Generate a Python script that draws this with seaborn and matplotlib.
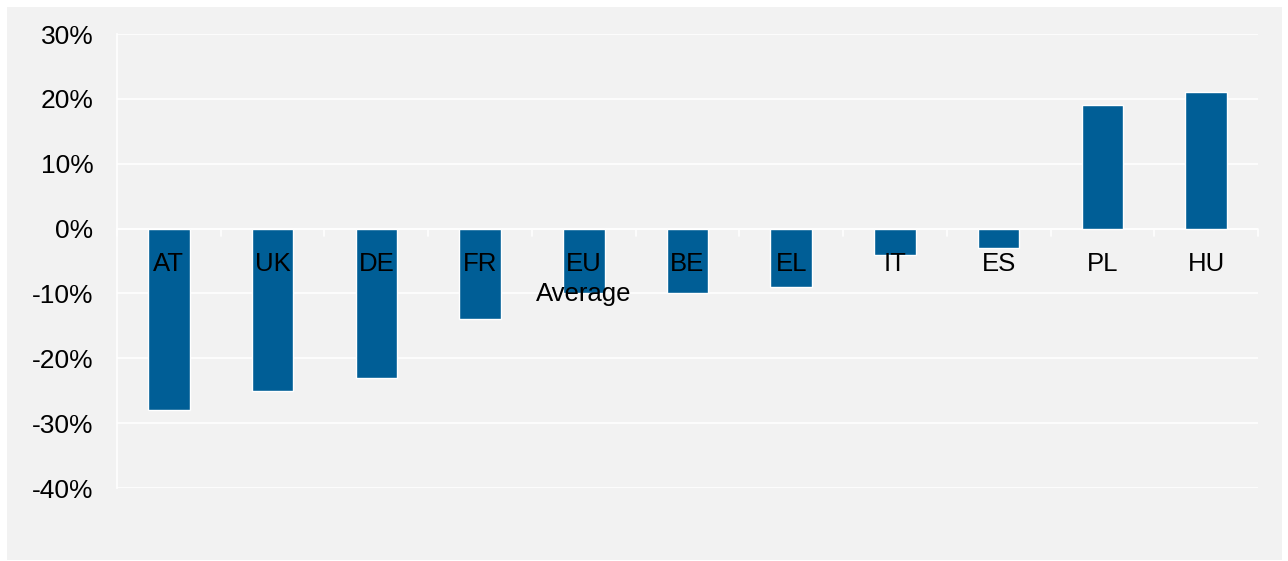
import pandas as pd
import seaborn as sns
import matplotlib.pyplot as plt
from matplotlib.patches import Rectangle
from matplotlib.ticker import FuncFormatter, FixedLocator

countries = ['AT', 'UK', 'DE', 'FR', 'EU\nAverage', 'BE', 'EL', 'IT', 'ES', 'PL', 'HU']
change = [-28, -25, -23, -14, -10, -10, -9, -4, -3, 19, 21]

df = pd.DataFrame({'Country': countries, 'Change': change})

sns.set_theme(style="white")
plt.rcParams['font.family'] = ['Liberation Sans', 'DejaVu Sans']

fig = plt.figure(figsize=(12.88, 5.61), dpi=100, facecolor='white')
# grey panel behind everything
fig.patches.append(Rectangle((7 / 1288, 1 / 561), 1275 / 1288, 553 / 561,
                             transform=fig.transFigure, facecolor='#f2f2f2',
                             edgecolor='none', zorder=-10))
ax = fig.add_axes([117 / 1288, 1 - 488 / 561, 1141 / 1288, 454 / 561])
ax.set_facecolor('#f2f2f2')

sns.barplot(data=df, x='Country', y='Change', color='#005e96', width=0.4,
            saturation=1, ax=ax, zorder=3)

ax.set_ylim(-40, 30)
ax.set_xlim(-0.5, len(countries) - 0.5)
ax.yaxis.set_major_locator(FixedLocator(range(-40, 31, 10)))
ax.yaxis.set_major_formatter(FuncFormatter(lambda v, p: f'{int(v)}%'))
ax.grid(axis='y', color='white', linewidth=1.2, zorder=0)

for s in ['top', 'right', 'bottom']:
    ax.spines[s].set_visible(False)
ax.spines['left'].set_color('white')
ax.spines['left'].set_linewidth(1.2)
ax.axhline(0, color='white', linewidth=1.2, zorder=1)

ax.tick_params(axis='y', colors='white', length=8, width=1.2, labelsize=19,
               labelcolor='black', pad=9)
ax.set_xticks([])
ax.set_xlabel(None)
ax.set_ylabel(None)

# small separators on the zero line between categories
for i in range(len(countries) + 1):
    ax.plot([i - 0.5, i - 0.5], [0, -1.2], color='white', linewidth=1.2,
            zorder=2, clip_on=False)

# category labels just below the zero line
for i, name in enumerate(countries):
    ax.annotate(name, (i, 0), xytext=(0, -17), textcoords='offset points',
                ha='center', va='top', fontsize=18.5, color='black',
                linespacing=1.3, zorder=4)

fig.savefig('out.png', dpi=100, facecolor='white')
